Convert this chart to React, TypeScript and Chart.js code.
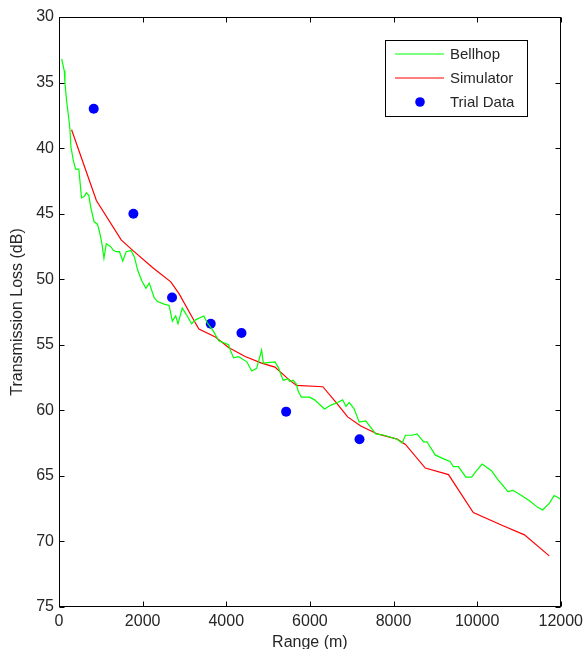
import React, { useEffect, useRef } from 'react';
import { Chart, registerables } from 'chart.js';

Chart.register(...registerables);

// ---------- data ----------
const bellhopRange = [
  64, 126, 142, 182, 221, 261, 285, 340, 396, 474, 498, 538, 601, 656, 712, 759, 837, 918, 972, 1027,
  1075, 1131, 1233, 1300, 1369, 1447, 1525, 1606, 1724, 1803, 1881, 1976, 2080, 2158, 2277, 2355, 2514,
  2633, 2711, 2791, 2846, 2948, 3067, 3171, 3266, 3463, 3542, 3700, 3819, 4056, 4096, 4175, 4293, 4491,
  4609, 4727, 4846, 4886, 5164, 5242, 5361, 5479, 5520, 5598, 5677, 5717, 5796, 5994, 6113, 6350, 6507,
  6665, 6784, 6863, 6942, 7061, 7180, 7337, 7574, 7773, 8088, 8207, 8286, 8444, 8563, 8721, 8800, 8997,
  9197, 9353, 9433, 9551, 9731, 9868, 9986, 10121, 10342, 10501, 10738, 10857, 11013, 11251, 11449,
  11567, 11725, 11843, 11962, 12000,
];
const bellhopTL = [
  33.2, 34.1, 35.0, 36.4, 37.4, 38.5, 39.9, 40.9, 41.6, 41.6, 42.4, 43.8, 43.7, 43.4, 43.6, 44.5, 45.6, 45.8, 46.4, 47.3,
  48.4, 47.3, 47.5, 47.8, 47.9, 47.9, 48.6, 47.9, 47.8, 48.3, 49.3, 50.1, 50.7, 50.3, 51.4, 51.7, 51.9,
  52.0, 53.2, 52.8, 53.4, 52.2, 52.8, 53.4, 53.1, 52.8, 53.3, 54.0, 54.7, 55.0, 55.4, 56.0, 55.9, 56.3,
  57.0, 56.8, 55.4, 56.4, 56.3, 56.7, 57.7, 57.6, 57.8, 57.7, 58.0, 58.5, 59.0, 59.0, 59.2, 59.9, 59.6,
  59.4, 59.2, 59.7, 59.4, 59.9, 60.9, 60.8, 61.8, 61.9, 62.2, 62.5, 61.9, 61.9, 61.8, 62.4, 62.4, 63.4,
  63.7, 63.9, 64.3, 64.3, 65.1, 65.1, 64.6, 64.1, 64.6, 65.3, 66.2, 66.1, 66.4, 66.9, 67.4,
  67.6, 67.1, 66.5, 66.7, 66.8,
];

const simulatorRange = [
  301, 894, 1487, 1763, 2237, 2673, 2870, 3186, 3345, 3740, 4056, 4452, 4846, 5164, 5479, 5677, 6310,
  6625, 6903, 7218, 7614, 8088, 8286, 8760, 9315, 9908, 10620, 11132, 11725,
];
const simulatorTL = [
  38.6, 44.0, 47.0, 47.8, 49.1, 50.2, 51.1, 52.9, 53.8, 54.4, 55.2, 55.9, 56.4, 56.7, 57.6, 58.1, 58.2,
  59.4, 60.5, 61.2, 61.8, 62.2, 62.6, 64.4, 64.9, 67.8, 68.8, 69.5, 71.1,
];

const trialRange = [830, 1779, 2704, 3629, 4364, 5432, 7187];
const trialTL = [37.0, 45.0, 51.4, 53.4, 54.1, 60.1, 62.2];

const xTickValues = [0, 2000, 4000, 6000, 8000, 10000, 12000];
const yTickValues = [30, 35, 40, 45, 50, 55, 60, 65, 70, 75];

const seriesNames = ['Bellhop', 'Simulator', 'Trial Data'];
const seriesColors = ['#00ff00', '#ff0000', '#0000ff'];

const FONT = '"Liberation Sans", Arial, Helvetica, sans-serif';
const TEXT_COLOR = '#262626';

const toPoints = (xs: number[], ys: number[]) => xs.map((x, i) => ({ x, y: ys[i] }));

// frame, inner ticks and legend drawn on the canvas
const framePlugin = {
  id: 'matlabFrame',
  afterDraw(chart: any) {
    const { ctx, chartArea: a, scales } = chart;
    const L = Math.round(a.left) + 0.5;
    const R = Math.round(a.right) - 0.5;
    const T = Math.round(a.top) + 0.5;
    const B = Math.round(a.bottom) - 0.5;
    ctx.save();
    ctx.strokeStyle = '#000';
    ctx.lineWidth = 1;
    ctx.strokeRect(L, T, R - L, B - T);
    const tl = 5;
    ctx.beginPath();
    xTickValues.forEach((v) => {
      const px = Math.round(scales.x.getPixelForValue(v)) + 0.5;
      ctx.moveTo(px, B);
      ctx.lineTo(px, B - tl);
      ctx.moveTo(px, T);
      ctx.lineTo(px, T + tl);
    });
    yTickValues.forEach((v) => {
      const py = Math.round(scales.y.getPixelForValue(v)) + 0.5;
      ctx.moveTo(L, py);
      ctx.lineTo(L + tl, py);
      ctx.moveTo(R, py);
      ctx.lineTo(R - tl, py);
    });
    ctx.stroke();

    // legend box
    const bx = 385.5, by = 40.5, bw = 142, bh = 76;
    ctx.fillStyle = '#fff';
    ctx.fillRect(bx, by, bw, bh);
    ctx.strokeStyle = '#000';
    ctx.strokeRect(bx, by, bw, bh);
    const rows = [54, 78, 102];
    ctx.font = `15px ${FONT}`;
    ctx.textBaseline = 'middle';
    ctx.textAlign = 'left';
    rows.forEach((ry, i) => {
      if (i < 2) {
        ctx.strokeStyle = seriesColors[i];
        ctx.lineWidth = 1.2;
        ctx.beginPath();
        ctx.moveTo(395, ry);
        ctx.lineTo(444, ry);
        ctx.stroke();
      } else {
        ctx.fillStyle = seriesColors[i];
        ctx.beginPath();
        ctx.arc(420, ry, 4.8, 0, Math.PI * 2);
        ctx.fill();
      }
      ctx.fillStyle = TEXT_COLOR;
      ctx.fillText(seriesNames[i], 450, ry + 1);
    });
    ctx.restore();
  },
};

export default function App() {
  const canvasRef = useRef<HTMLCanvasElement | null>(null);

  useEffect(() => {
    if (!canvasRef.current) return;
    const chart = new Chart(canvasRef.current, {
      type: 'scatter',
      data: {
        datasets: [
          {
            label: seriesNames[0],
            data: toPoints(bellhopRange, bellhopTL),
            showLine: true,
            borderColor: seriesColors[0],
            borderWidth: 1.2,
            pointRadius: 0,
            tension: 0,
          },
          {
            label: seriesNames[1],
            data: toPoints(simulatorRange, simulatorTL),
            showLine: true,
            borderColor: seriesColors[1],
            borderWidth: 1.2,
            pointRadius: 0,
            tension: 0,
          },
          {
            label: seriesNames[2],
            data: toPoints(trialRange, trialTL),
            showLine: false,
            backgroundColor: seriesColors[2],
            borderColor: seriesColors[2],
            borderWidth: 0,
            pointRadius: 5,
            pointStyle: 'circle',
          },
        ],
      },
      options: {
        responsive: false,
        animation: false,
        maintainAspectRatio: false,
        layout: { padding: { left: 0, top: 17, right: 23, bottom: 0 } },
        plugins: {
          legend: { display: false },
          tooltip: { enabled: false },
        },
        scales: {
          x: {
            type: 'linear',
            position: 'bottom',
            min: 0,
            max: 12000,
            afterBuildTicks: (s: any) => {
              s.ticks = xTickValues.map((v) => ({ value: v }));
            },
            afterFit: (s: any) => {
              s.height = 42;
            },
            grid: { display: false, drawTicks: false },
            border: { display: false },
            ticks: {
              padding: 5,
              maxRotation: 0,
              color: TEXT_COLOR,
              font: { family: FONT, size: 16 },
              callback: (v: any) => String(v),
            },
            title: {
              display: true,
              text: 'Range (m)',
              color: TEXT_COLOR,
              font: { family: FONT, size: 16 },
              padding: { top: 0, bottom: -3 },
            },
          },
          y: {
            type: 'linear',
            reverse: true,
            min: 30,
            max: 75,
            afterBuildTicks: (s: any) => {
              s.ticks = yTickValues.map((v) => ({ value: v }));
            },
            afterFit: (s: any) => {
              s.width = 59;
            },
            grid: { display: false, drawTicks: false },
            border: { display: false },
            ticks: {
              padding: 5,
              color: TEXT_COLOR,
              font: { family: FONT, size: 16 },
              callback: (v: any) => String(v),
            },
            title: {
              display: true,
              text: 'Transmission Loss (dB)',
              color: TEXT_COLOR,
              font: { family: FONT, size: 16 },
              padding: { top: 8, bottom: 0 },
            },
          },
        },
      },
      plugins: [framePlugin],
    });
    return () => chart.destroy();
  }, []);

  return (
    <div style={{ position: 'absolute', left: 0, top: 0, width: 588, height: 649, background: '#fff' }}>
      <canvas ref={canvasRef} width={588} height={649} style={{ display: 'block' }} />
    </div>
  );
}
